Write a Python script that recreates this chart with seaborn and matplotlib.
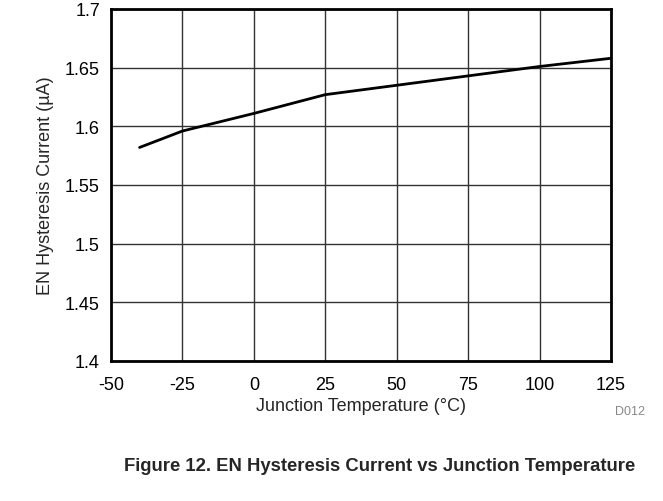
import matplotlib
matplotlib.use("Agg")
import matplotlib.pyplot as plt
import seaborn as sns
import pandas as pd

# data
temps = [-40, -25, 0, 25, 50, 75, 100, 125]
current = [1.582, 1.596, 1.611, 1.627, 1.635, 1.643, 1.651, 1.658]

x_ticks = [-50, -25, 0, 25, 50, 75, 100, 125]
x_labels = ["-50", "-25", "0", "25", "50", "75", "100", "125"]
y_ticks = [1.4, 1.45, 1.5, 1.55, 1.6, 1.65, 1.7]
y_labels = ["1.4", "1.45", "1.5", "1.55", "1.6", "1.65", "1.7"]

sns.set_theme(style="white")
plt.rcParams['font.family'] = ['Liberation Sans', 'DejaVu Sans']

df = pd.DataFrame({'temp': temps, 'current': current})

fig = plt.figure(figsize=(6.63, 5.02), dpi=100)
W, H = 663, 502
ax = fig.add_axes([111 / W, 1 - 362 / H, (611 - 111) / W, (362 - 10) / H])

sns.lineplot(data=df, x='temp', y='current', ax=ax, color='black', linewidth=2)

ax.set_xlim(-50, 125)
ax.set_ylim(1.4, 1.7)
ax.set_xticks(x_ticks)
ax.set_xticklabels(x_labels)
ax.set_yticks(y_ticks)
ax.set_yticklabels(y_labels)
ax.grid(True, color='#333333', linewidth=1)
for s in ax.spines.values():
    s.set_color('black')
    s.set_linewidth(2)
ax.tick_params(axis='x', labelsize=13, colors='black', length=0, pad=11)
ax.tick_params(axis='y', labelsize=13, colors='black', length=0, pad=8)
ax.set_xlabel('Junction Temperature (°C)', fontsize=13, labelpad=3)
ax.set_ylabel('EN Hysteresis Current (µA)', fontsize=13, labelpad=8)

fig.text(615 / W, 1 - 412 / H, 'D012', fontsize=9, color='#888888', ha='left', va='center')
fig.text(380 / W, 1 - 467 / H, 'Figure 12. EN Hysteresis Current vs Junction Temperature',
         fontsize=13.3, fontweight='bold', ha='center', va='center')

fig.savefig('out.png', dpi=100)
